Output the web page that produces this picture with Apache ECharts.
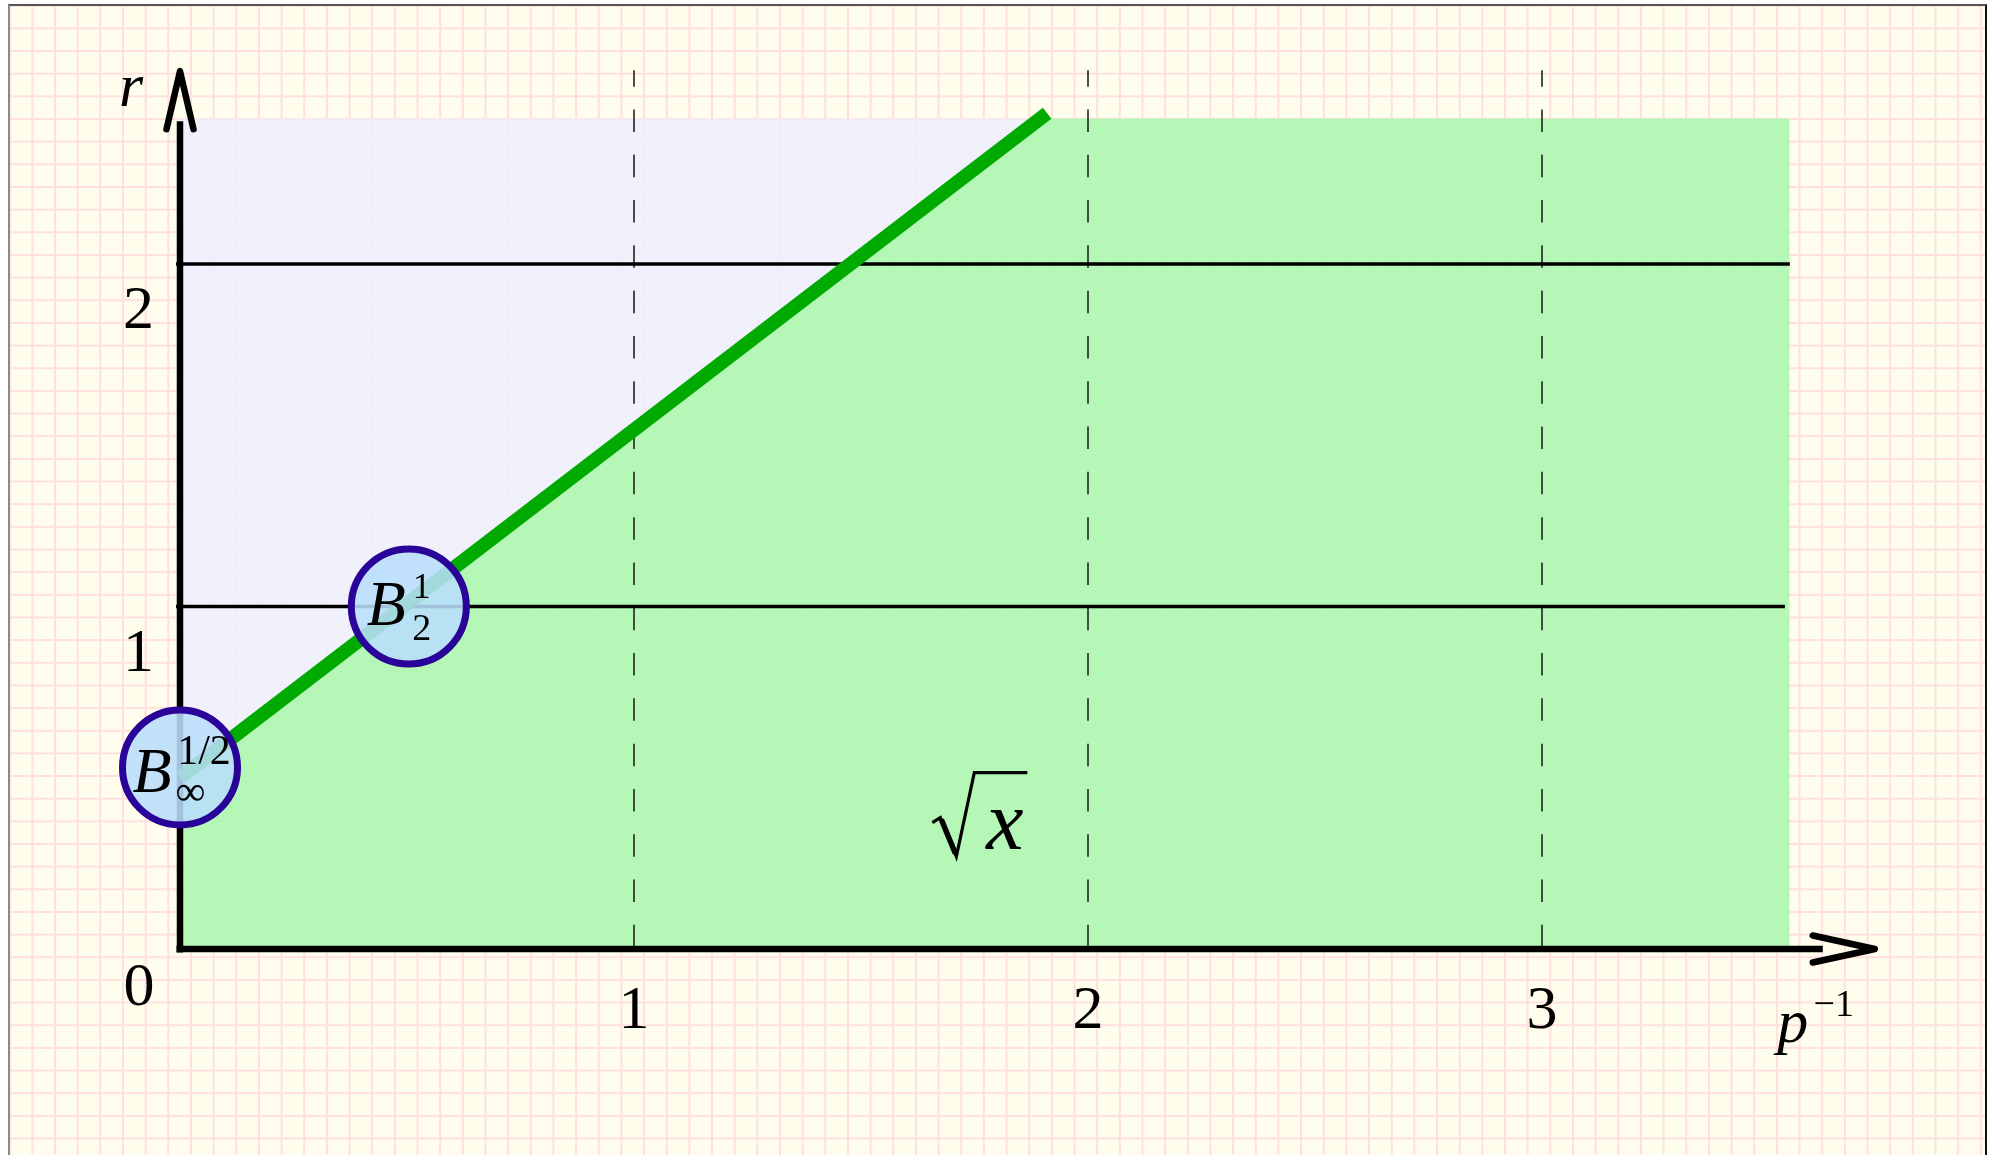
<!DOCTYPE html>
<html>
<head>
<meta charset="utf-8">
<title>Embedding diagram</title>
<script src="https://cdn.jsdelivr.net/npm/echarts@6/dist/echarts.min.js"></script>
<style>
  html, body { margin: 0; padding: 0; background: #ffffff; width: 1995px; height: 1155px; overflow: hidden; }
  #paper {
    position: absolute; left: 8px; top: 4px; width: 1975px; height: 1200px;
    border-left: 2px solid #8a8a8a; border-top: 2px solid #555555; border-right: 2px solid #111111;
    background-color: #fffeec;
    background-image:
      linear-gradient(to right, #ffdfdf 1.7px, transparent 1.7px),
      linear-gradient(to bottom, #ffdfdf 1.7px, transparent 1.7px);
    background-size: 22.67px 22.67px;
    background-position: -1.3px -1.27px;
  }
  #chart { position: absolute; left: 0; top: 0; width: 1995px; height: 1155px; }
  #fontwarm { position: absolute; left: -9999px; top: 0; font-family: "Liberation Serif"; }
</style>
</head>
<body>
<div id="paper"></div>
<div id="fontwarm"><i>rpxB</i>0123/∞−</div>
<div id="chart"></div>
<script>
// Smoothness r plotted against integrability 1/p
const xTicks = [1, 2, 3];                    // labelled values on the 1/p axis
const rTicks = [1, 2];                       // labelled values on the r axis
const rLevels = [1, 2];                      // horizontal reference levels
const rLevelEnds = [3.535, 3.546];           // right end of each level line (1/p)
const embedLine = [[0, 0.5], [1.91, 2.44]];  // r = 1/p + 1/2
const regionTop = 2.425;
const regionRight = 3.545;
const spaceNames = [['B', '1/2', '∞'], ['B', '1', '2']];  // base, superscript, subscript
const spacePoints = [[0, 0.53], [0.504, 1.0]];            // (1/p, r) of each marked space
const xAxisTip = 3.733;
const rAxisTip = 2.563;
const dashTop = 2.566;
const rootLabelAt = [1.71, 0.27];

const SERIF = '"Liberation Serif", "Times New Roman", serif';

function text(x, y, str, size, italic) {
  return {
    type: 'text',
    style: {
      x: x, y: y, text: str,
      font: (italic ? 'italic ' : '') + size + 'px ' + SERIF,
      fill: '#000000',
      align: 'center', verticalAlign: 'middle'
    }
  };
}

const chart = echarts.init(document.getElementById('chart'), null, { renderer: 'canvas' });

const option = {
  backgroundColor: 'transparent',
  animation: false,
  grid: { left: 180, right: 112.5, top: 58.5, bottom: 206, containLabel: false, outerBoundsMode: 'none' },
  xAxis: { type: 'value', min: 0, max: 3.75, show: false },
  yAxis: { type: 'value', min: 0, max: 2.6, show: false },
  series: [
    {
      // shaded regions above and below the embedding line
      name: 'regions', type: 'custom', coordinateSystem: 'cartesian2d', z: 1, silent: true,
      data: [[0, 0]],
      renderItem: function (params, api) {
        const x0 = embedLine[0][0], r0 = embedLine[0][1];
        const x1 = embedLine[1][0], r1 = embedLine[1][1];
        const xTop = x0 + (regionTop - r0) * (x1 - x0) / (r1 - r0);
        const c = function (p) { return api.coord(p); };
        return {
          type: 'group',
          children: [
            { type: 'polygon', shape: { points: [c([0, r0]), c([0, regionTop]), c([xTop, regionTop])] },
              style: { fill: 'rgba(238,238,255,0.85)' } },
            { type: 'polygon', shape: { points: [c([0, 0]), c([0, r0]), c([xTop, regionTop]), c([regionRight, regionTop]), c([regionRight, 0])] },
              style: { fill: 'rgba(176,247,180,0.94)' } }
          ]
        };
      }
    },
    {
      // dashed verticals at the labelled 1/p values
      name: 'xGuides', type: 'custom', coordinateSystem: 'cartesian2d', z: 2, silent: true,
      data: xTicks.map(function (x) { return [x, dashTop]; }),
      renderItem: function (params, api) {
        const top = api.coord([api.value(0), api.value(1)]);
        const bottom = api.coord([api.value(0), 0]);
        return {
          type: 'line',
          shape: { x1: top[0], y1: top[1], x2: bottom[0], y2: bottom[1] },
          style: { stroke: '#222222', lineWidth: 1.6, lineDash: [22.5, 22.8], lineDashOffset: 6 }
        };
      }
    },
    {
      // horizontal levels r = 1 and r = 2
      name: 'rLevels', type: 'custom', coordinateSystem: 'cartesian2d', z: 3, silent: true,
      data: rLevels.map(function (r, i) { return [rLevelEnds[i], r]; }),
      renderItem: function (params, api) {
        const end = api.coord([api.value(0), api.value(1)]);
        const start = api.coord([0, api.value(1)]);
        return {
          type: 'line',
          shape: { x1: start[0] - 4, y1: start[1], x2: end[0], y2: end[1] },
          style: { stroke: '#000000', lineWidth: 3.4 }
        };
      }
    },
    {
      // axes with open arrow heads
      name: 'axes', type: 'custom', coordinateSystem: 'cartesian2d', z: 4, silent: true,
      data: [[xAxisTip, rAxisTip]],
      renderItem: function (params, api) {
        const o = api.coord([0, 0]);
        const xt = api.coord([api.value(0), 0]);
        const rt = api.coord([0, api.value(1)]);
        const w = 6.5;
        const headStyle = { stroke: '#000000', lineWidth: w, fill: null, lineCap: 'round', lineJoin: 'round' };
        return {
          type: 'group',
          children: [
            { type: 'line', shape: { x1: o[0] - 3.5, y1: o[1], x2: xt[0] - 52, y2: o[1] },
              style: { stroke: '#000000', lineWidth: w } },
            { type: 'line', shape: { x1: o[0], y1: o[1] + 3.5, x2: o[0], y2: rt[1] + 50 },
              style: { stroke: '#000000', lineWidth: w } },
            { type: 'polyline', shape: { points: [[xt[0] - 62, o[1] - 13.5], [xt[0], o[1]], [xt[0] - 62, o[1] + 13.5]] },
              style: headStyle },
            { type: 'polyline', shape: { points: [[o[0] - 13.5, rt[1] + 58], [o[0], rt[1]], [o[0] + 13.5, rt[1] + 58]] },
              style: headStyle }
          ]
        };
      }
    },
    {
      name: 'embedding', type: 'line', z: 5, silent: true,
      data: embedLine,
      showSymbol: false, symbol: 'none',
      lineStyle: { width: 14, color: '#00aa00', cap: 'butt' }
    },
    {
      // marked function spaces
      name: 'spaces', type: 'custom', coordinateSystem: 'cartesian2d', z: 6, silent: true,
      data: spacePoints,
      renderItem: function (params, api) {
        const p = api.coord([api.value(0), api.value(1)]);
        const nm = spaceNames[params.dataIndex];
        const children = [
          { type: 'circle', shape: { cx: p[0], cy: p[1], r: 57.5 },
            style: { fill: 'rgba(186,222,252,0.88)', stroke: '#2a0399', lineWidth: 7 } }
        ];
        if (params.dataIndex === 0) {
          children.push(text(p[0] - 28, p[1] + 8, nm[0], 64, true));
          children.push(text(p[0] + 24, p[1] - 15, nm[1], 42, false));
          children.push(text(p[0] + 10.5, p[1] + 26, nm[2], 42, false));
        } else {
          children.push(text(p[0] - 22.5, p[1] + 2, nm[0], 64, true));
          children.push(text(p[0] + 13, p[1] - 18, nm[1], 36, false));
          children.push(text(p[0] + 13, p[1] + 24, nm[2], 38, false));
        }
        return { type: 'group', children: children };
      }
    },
    {
      // tick labels, axis names and the root annotation
      name: 'labels', type: 'custom', coordinateSystem: 'cartesian2d', z: 7, silent: true,
      data: [[0, 0]],
      renderItem: function (params, api) {
        const o = api.coord([0, 0]);
        const xt = api.coord([xAxisTip, 0]);
        const rt = api.coord([0, rAxisTip]);
        const children = [];
        xTicks.forEach(function (x) {
          const p = api.coord([x, 0]);
          children.push(text(p[0], p[1] + 63, String(x), 62, false));
        });
        rTicks.forEach(function (r) {
          const p = api.coord([0, r]);
          children.push(text(p[0] - 41.5, p[1] + 48, String(r), 62, false));
        });
        children.push(text(o[0] - 41, o[1] + 40, '0', 62, false));
        children.push(text(rt[0] - 49, rt[1] + 18.5, 'r', 62, true));
        children.push(text(xt[0] - 82, xt[1] + 77, 'p', 62, true));
        children.push(text(xt[0] - 41, xt[1] + 57, '\u22121', 38, false));

        const a = api.coord(rootLabelAt);
        children.push({
          type: 'polyline',
          shape: { points: [[a[0] - 24, a[1] - 34], [a[0] - 16, a[1] - 39], [a[0], a[1]], [a[0] + 18, a[1] - 84], [a[0] + 71, a[1] - 84]] },
          style: { stroke: '#000000', lineWidth: 3.2, fill: null, lineJoin: 'miter' }
        });
        children.push({
          type: 'line',
          shape: { x1: a[0] - 15, y1: a[1] - 37, x2: a[0] - 1, y2: a[1] - 3 },
          style: { stroke: '#000000', lineWidth: 5.5 }
        });
        children.push(text(a[0] + 48.5, a[1] - 29.5, 'x', 84, true));
        return { type: 'group', children: children };
      }
    }
  ]
};

chart.setOption(option);
</script>
</body>
</html>
